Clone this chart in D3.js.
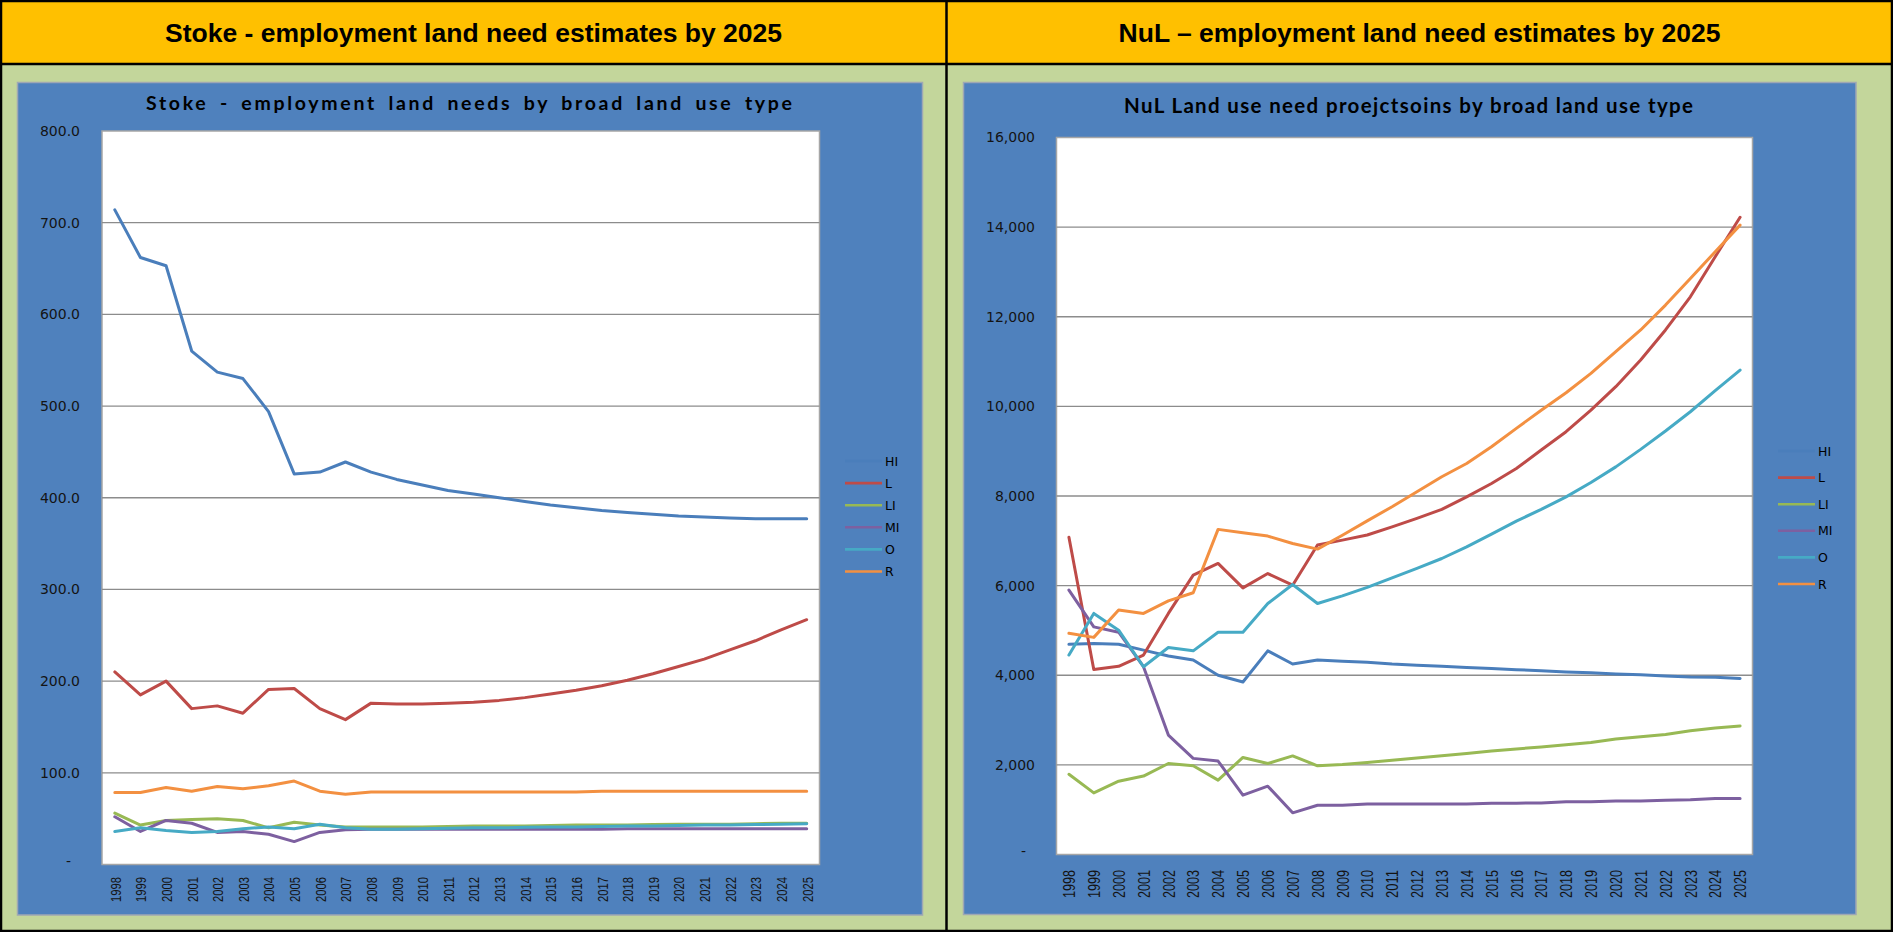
<!DOCTYPE html>
<html>
<head>
<meta charset="utf-8">
<script src="https://cdn.jsdelivr.net/npm/d3@7/dist/d3.min.js"></script>
<style>
  html, body { margin: 0; padding: 0; background: #ffffff; overflow: hidden; }
  svg { display: block; }
</style>
</head>
<body>
<svg id="board" width="1893" height="932"></svg>
<script>
// ---- data -------------------------------------------------------------
const years = ["1998","1999","2000","2001","2002","2003","2004","2005","2006","2007",
               "2008","2009","2010","2011","2012","2013","2014","2015","2016","2017",
               "2018","2019","2020","2021","2022","2023","2024","2025"];

const seriesNames = ["HI", "L", "LI", "MI", "O", "R"];

// Stoke (hectares)
const stokeHI = [714, 662, 653, 560, 537, 530, 494, 426, 428, 439, 428, 420, 414, 408, 404,
                 400, 396, 392, 389, 386, 384, 382, 380, 379, 378, 377, 377, 377];
const stokeL  = [210, 185, 200, 170, 173, 165, 191, 192, 170, 158, 176, 175, 175, 176, 177,
                 179, 182, 186, 190, 195, 201, 208, 216, 224, 234, 244, 256, 267];
const stokeLI = [56, 43, 48, 49, 50, 48, 40, 46, 43, 41, 41, 41, 41, 41.5, 42,
                 42, 42, 42.5, 43, 43, 43, 43.5, 44, 44, 44, 44.5, 45, 45];
const stokeMI = [52, 36, 48, 45, 35, 36, 33, 25, 35, 38, 38.5, 38.5, 38.5, 38.5, 38.5,
                 38.5, 38.5, 38.5, 38.5, 38.5, 39, 39, 39, 39, 39, 39, 39, 39];
const stokeO  = [36, 40, 37, 35, 36, 39, 41, 39, 44, 40, 38.5, 38.5, 39, 39.5, 40,
                 40, 40.5, 41, 41, 41.5, 42, 42, 42.5, 43, 43, 43.5, 44, 44.5];
const stokeR  = [78.5, 78.5, 84, 80, 85, 82.5, 86, 91, 80, 76.5, 79, 79, 79, 79, 79,
                 79, 79, 79, 79, 80, 80, 80, 80, 80, 80, 80, 80, 80];

// NuL
const nulHI = [4690, 4710, 4690, 4560, 4430, 4340, 4000, 3850, 4545, 4250, 4340, 4315, 4290, 4250, 4225,
               4200, 4175, 4150, 4125, 4100, 4075, 4055, 4030, 4010, 3985, 3960, 3955, 3930];
const nulL  = [7080, 4130, 4200, 4450, 5380, 6235, 6495, 5950, 6270, 6010, 6905, 7015, 7130, 7310, 7500,
               7700, 7980, 8280, 8615, 9025, 9435, 9915, 10440, 11035, 11705, 12445, 13340, 14220];
const nulLI = [1790, 1375, 1635, 1750, 2030, 1980, 1660, 2165, 2030, 2200, 1980, 2010, 2055, 2105, 2155,
               2205, 2255, 2310, 2355, 2400, 2450, 2500, 2575, 2625, 2680, 2760, 2825, 2870];
const nulMI = [5900, 5080, 4960, 4190, 2665, 2145, 2085, 1325, 1525, 930, 1100, 1100, 1125, 1125, 1125,
               1125, 1125, 1145, 1145, 1150, 1175, 1175, 1195, 1195, 1210, 1220, 1250, 1250];
const nulO  = [4450, 5380, 5005, 4190, 4620, 4545, 4960, 4960, 5600, 6025, 5600, 5770, 5960, 6175, 6385,
               6605, 6865, 7150, 7440, 7700, 7980, 8300, 8650, 9040, 9450, 9880, 10350, 10810];
const nulR  = [4935, 4845, 5455, 5380, 5660, 5840, 7255, 7180, 7105, 6940, 6815, 7125, 7445, 7760, 8095,
               8430, 8725, 9100, 9510, 9915, 10305, 10735, 11220, 11705, 12260, 12855, 13450, 14045];

const stokeTicks = [0, 100, 200, 300, 400, 500, 600, 700, 800];
const nulTicks   = [0, 2000, 4000, 6000, 8000, 10000, 12000, 14000, 16000];

const panelTitles = ["Stoke - employment land need estimates by 2025",
                     "NuL \u2013 employment land need estimates by 2025"];
const chartTitles = ["Stoke - employment land needs by broad land use type",
                     "NuL Land use need proejctsoins by broad land use type"];

// ---- styling ----------------------------------------------------------
const colors = {
  HI: "#4A7EBB", L: "#BE4B48", LI: "#98B954",
  MI: "#7D60A0", O: "#46AAC5", R: "#F39041"
};
const YELLOW = "#FFC000", OLIVE = "#C3D69B", BLUE = "#4F81BD";

const svg = d3.select("#board");

// ---- page frame: two panels with yellow headers ----------------------
svg.append("rect").attr("x", 0).attr("y", 0).attr("width", 1893).attr("height", 932).attr("fill", OLIVE);
svg.append("rect").attr("x", 0).attr("y", 0).attr("width", 1893).attr("height", 64).attr("fill", YELLOW);

const frame = svg.append("g").attr("stroke", "#000").attr("fill", "none");
frame.append("rect").attr("x", 1).attr("y", 1).attr("width", 1891).attr("height", 930).attr("stroke-width", 2.5);
frame.append("line").attr("x1", 0).attr("x2", 1893).attr("y1", 64).attr("y2", 64).attr("stroke-width", 2.5);
frame.append("line").attr("x1", 946.5).attr("x2", 946.5).attr("y1", 0).attr("y2", 932).attr("stroke-width", 2.5);

[473.5, 1419.5].forEach((cx, i) => {
  svg.append("text")
    .attr("x", cx).attr("y", 41.5)
    .attr("text-anchor", "middle")
    .attr("font-family", "'Liberation Sans', Arial, sans-serif")
    .attr("font-weight", "bold")
    .attr("font-size", 26.5)
    .attr("fill", "#000")
    .text(panelTitles[i]);
});

// ---- chart builder ---------------------------------------------------
function drawChart(cfg) {
  const g = svg.append("g");

  // chart area
  g.append("rect")
    .attr("x", cfg.area.x0).attr("y", cfg.area.y0)
    .attr("width", cfg.area.x1 - cfg.area.x0).attr("height", cfg.area.y1 - cfg.area.y0)
    .attr("fill", BLUE).attr("stroke", "#9EA7B4").attr("stroke-width", 1.5);

  // chart title
  g.append("text")
    .attr("x", cfg.title.x).attr("y", cfg.title.y)
    .attr("font-family", "Lato, 'Open Sans', sans-serif")
    .attr("font-weight", "bold")
    .attr("font-size", cfg.title.size)
    .attr("textLength", cfg.title.len)
    .attr("lengthAdjust", "spacing")
    .attr("word-spacing", cfg.title.ws)
    .attr("fill", "#000")
    .text(cfg.title.text);

  const p = cfg.plot;
  const x = d3.scalePoint().domain(years).range([p.x0, p.x1]).padding(0.5);
  const y = d3.scaleLinear().domain([0, cfg.ticks[cfg.ticks.length - 1]]).range([p.y1, p.y0]);

  // plot area
  g.append("rect")
    .attr("x", p.x0).attr("y", p.y0)
    .attr("width", p.x1 - p.x0).attr("height", p.y1 - p.y0)
    .attr("fill", "#fff").attr("stroke", "#A6A6A6").attr("stroke-width", 1.5);

  // horizontal gridlines
  g.append("g")
    .selectAll("line")
    .data(cfg.ticks.filter(t => t > 0 && t < cfg.ticks[cfg.ticks.length - 1]))
    .join("line")
    .attr("x1", p.x0).attr("x2", p.x1)
    .attr("y1", d => y(d)).attr("y2", d => y(d))
    .attr("stroke", "#8C8C8C").attr("stroke-width", 1.3);

  // y axis labels
  const yAxis = d3.axisLeft(y)
    .tickValues(cfg.ticks)
    .tickSize(0)
    .tickPadding(0)
    .tickFormat(cfg.fmt);
  const ya = g.append("g")
    .attr("transform", `translate(${cfg.labelX},0)`)
    .call(yAxis);
  ya.select(".domain").remove();
  ya.selectAll("text")
    .attr("font-family", "'DejaVu Sans', Verdana, sans-serif")
    .attr("font-size", 14)
    .attr("fill", "#141414")
    .attr("dx", d => d === 0 ? -9 : 0)
    .attr("dy", d => d === 0 ? "0.1em" : "0.32em");

  // x axis labels (rotated)
  const xAxis = d3.axisBottom(x).tickSize(0).tickPadding(0);
  const xa = g.append("g")
    .attr("transform", `translate(0,${cfg.xLabelY})`)
    .call(xAxis);
  xa.select(".domain").remove();
  xa.selectAll("text")
    .attr("font-family", "'Liberation Sans', Arial, sans-serif")
    .attr("font-size", cfg.xFont)
    .attr("fill", "#141414")
    .attr("text-anchor", "end")
    .attr("transform", "rotate(-90)")
    .attr("x", 0).attr("y", 0)
    .attr("dy", "0.36em")
    .attr("textLength", cfg.xLen)
    .attr("lengthAdjust", "spacingAndGlyphs");

  // series lines
  const line = d3.line().x((d, i) => x(years[i])).y(d => y(d));
  seriesNames.forEach(name => {
    g.append("path")
      .datum(cfg.data[name])
      .attr("fill", "none")
      .attr("stroke", colors[name])
      .attr("stroke-width", 3)
      .attr("stroke-linejoin", "round")
      .attr("stroke-linecap", "round")
      .attr("d", line);
  });

  // legend
  const lg = g.append("g");
  seriesNames.forEach((name, i) => {
    const ly = cfg.legend.y + i * cfg.legend.step;
    lg.append("line")
      .attr("x1", cfg.legend.x).attr("x2", cfg.legend.x + 37)
      .attr("y1", ly).attr("y2", ly)
      .attr("stroke", colors[name]).attr("stroke-width", 2.6);
    lg.append("text")
      .attr("x", cfg.legend.x + 40).attr("y", ly)
      .attr("dy", "0.36em")
      .attr("font-family", "'DejaVu Sans', Verdana, sans-serif")
      .attr("font-size", 12.5)
      .attr("fill", "#000")
      .text(name);
  });
}

drawChart({
  area: { x0: 17.5, y0: 82.5, x1: 922.5, y1: 915 },
  title: { x: 146, y: 110, size: 19.5, len: 646, ws: 4, text: chartTitles[0] },
  plot: { x0: 102, y0: 131, x1: 819.5, y1: 864.5 },
  ticks: stokeTicks,
  fmt: d => d === 0 ? "-" : d3.format(".1f")(d),
  labelX: 80,
  xLabelY: 877,
  xFont: 15,
  xLen: 25,
  legend: { x: 845, y: 461, step: 22.1 },
  data: { HI: stokeHI, L: stokeL, LI: stokeLI, MI: stokeMI, O: stokeO, R: stokeR }
});

drawChart({
  area: { x0: 963.5, y0: 82.5, x1: 1856, y1: 914.5 },
  title: { x: 1124, y: 113, size: 20.5, len: 569, ws: 0, text: chartTitles[1] },
  plot: { x0: 1056.5, y0: 137.5, x1: 1752.5, y1: 854.5 },
  ticks: nulTicks,
  fmt: d => d === 0 ? "-" : d3.format(",")(d),
  labelX: 1035,
  xLabelY: 870,
  xFont: 16,
  xLen: 28,
  legend: { x: 1778, y: 451, step: 26.6 },
  data: { HI: nulHI, L: nulL, LI: nulLI, MI: nulMI, O: nulO, R: nulR }
});
</script>
</body>
</html>
